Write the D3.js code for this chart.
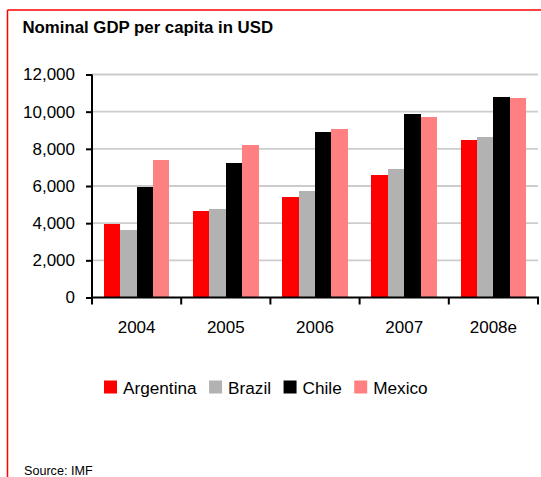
<!DOCTYPE html>
<html>
<head>
<meta charset="utf-8">
<script src="https://cdn.jsdelivr.net/npm/d3@7"></script>
<style>
  html, body { margin: 0; padding: 0; background: #fff; }
  svg { display: block; font-family: "Liberation Sans", Arial, sans-serif; }
</style>
</head>
<body>
<svg id="chart" width="541" height="477"></svg>
<script>
// Nominal GDP per capita (USD), by country and year
const years = ["2004", "2005", "2006", "2007", "2008e"];
const countries = ["Argentina", "Brazil", "Chile", "Mexico"];
const argentina = [3960, 4660, 5410, 6590, 8480];
const brazil    = [3630, 4760, 5750, 6920, 8640];
const chile     = [5950, 7240, 8910, 9880, 10790];
const mexico    = [7400, 8210, 9070, 9710, 10740];
const yTicks = [0, 2000, 4000, 6000, 8000, 10000, 12000];
const colors = ["#ff0000", "#b2b2b2", "#000000", "#ff8080"];

const seriesValues = [argentina, brazil, chile, mexico];
const rows = years.map((yr, i) => ({
  year: yr,
  values: countries.map((c, j) => ({ country: c, value: seriesValues[j][i] }))
}));

const svg = d3.select("#chart");
const plot = { left: 92, right: 538, top: 74.5, bottom: 297.5 };

// frame
svg.append("line").attr("x1", 7.5).attr("x2", 541).attr("y1", 10).attr("y2", 10)
  .attr("stroke", "#ff0000").attr("stroke-width", 1.5);
svg.append("line").attr("x1", 7.5).attr("x2", 7.5).attr("y1", 10).attr("y2", 477)
  .attr("stroke", "#ff0000").attr("stroke-width", 1.5);

// title
svg.append("text").attr("x", 22.5).attr("y", 32.5)
  .attr("font-size", 16.8).attr("font-weight", "bold").attr("fill", "#000")
  .text("Nominal GDP per capita in USD");

const x0 = d3.scaleBand().domain(years).range([plot.left, plot.right])
  .paddingInner(0).paddingOuter(0);
const x1 = d3.scaleBand().domain(countries).range([0, x0.bandwidth()])
  .paddingInner(0).paddingOuter(0.72);
const y = d3.scaleLinear().domain([0, 12000]).range([plot.bottom, plot.top]);
const color = d3.scaleOrdinal().domain(countries).range(colors);

// gridlines
svg.append("g").selectAll("line").data(yTicks.filter(d => d > 0)).join("line")
  .attr("x1", plot.left).attr("x2", plot.right)
  .attr("y1", d => y(d)).attr("y2", d => y(d))
  .attr("stroke", "#cccccc").attr("stroke-width", 1.8);

// bars
svg.append("g").selectAll("g").data(rows).join("g")
  .attr("transform", d => `translate(${x0(d.year)},0)`)
  .selectAll("rect").data(d => d.values).join("rect")
  .attr("x", d => x1(d.country))
  .attr("width", x1.bandwidth())
  .attr("y", d => y(d.value))
  .attr("height", d => y(0) - y(d.value))
  .attr("fill", d => color(d.country))
  .attr("shape-rendering", "crispEdges");

// y axis
const yAxis = svg.append("g").attr("transform", `translate(${plot.left},0)`)
  .call(d3.axisLeft(y).tickValues(yTicks).tickFormat(d3.format(",")).tickSize(6).tickPadding(11));
yAxis.select(".domain").attr("stroke", "#000").attr("stroke-width", 2)
  .attr("d", `M0,${plot.top}V${plot.bottom}`);
yAxis.selectAll(".tick line").attr("stroke", "#000").attr("stroke-width", 2);
yAxis.selectAll(".tick text").attr("font-size", 17).attr("fill", "#000")
  .attr("font-family", "'Liberation Sans', Arial, sans-serif");

// x axis: labels centred in each band, tick marks at band boundaries
const xAxis = svg.append("g").attr("transform", `translate(0,${plot.bottom})`)
  .call(d3.axisBottom(x0).tickSize(0).tickPadding(23));
xAxis.select(".domain").remove();
xAxis.selectAll(".tick text").attr("font-size", 17).attr("fill", "#000")
  .attr("font-family", "'Liberation Sans', Arial, sans-serif");
svg.append("line").attr("x1", plot.left - 1).attr("x2", plot.right + 1)
  .attr("y1", plot.bottom).attr("y2", plot.bottom)
  .attr("stroke", "#000").attr("stroke-width", 2);
const bounds = years.map(d => x0(d)).concat([x0.range()[1]]);
svg.append("g").selectAll("line").data(bounds).join("line")
  .attr("x1", d => d).attr("x2", d => d)
  .attr("y1", plot.bottom).attr("y2", plot.bottom + 7)
  .attr("stroke", "#000").attr("stroke-width", 2);

// legend
const legend = svg.append("g").attr("transform", "translate(104,0)");
let lx = 0;
countries.forEach(c => {
  const g = legend.append("g").attr("transform", `translate(${lx},0)`);
  g.append("rect").attr("x", 0).attr("y", 380.5).attr("width", 13).attr("height", 13)
    .attr("fill", color(c));
  const t = g.append("text").attr("x", 19).attr("y", 393.5)
    .attr("font-size", 17.2).attr("fill", "#000").text(c);
  lx += 19 + t.node().getComputedTextLength() + 12.5;
});

// source note
svg.append("text").attr("x", 24).attr("y", 475)
  .attr("font-size", 12.6).attr("fill", "#000").text("Source: IMF");
</script>
</body>
</html>
